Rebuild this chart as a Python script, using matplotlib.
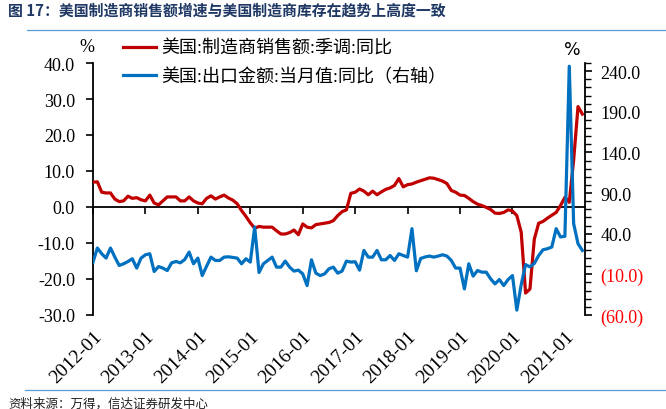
import matplotlib
matplotlib.use('Agg')
import matplotlib.pyplot as plt
from matplotlib.ticker import MultipleLocator
from matplotlib.lines import Line2D
import numpy as np

plt.rcParams['font.family'] = ['Liberation Serif', 'Noto Sans CJK SC', 'DejaVu Sans']

# ---------------- data ----------------
months = [f"{y}-{m:02d}" for y in range(2012, 2022) for m in range(1, 13)][:113]

sales_yoy = [6.9, 7.0, 4.1, 3.9, 3.9, 2.2, 1.5, 1.7, 3.0, 2.4, 2.6, 2.0,
             1.7, 3.3, 1.1, 0.6, 1.7, 2.8, 2.8, 2.8, 1.7, 1.7, 2.8, 1.7,
             1.1, 0.9, 2.4, 3.1, 2.2, 2.8, 3.3, 2.5, 1.9, 0.9, -1.0, -2.6,
             -4.4, -5.9, -5.4, -5.6, -5.6, -5.6, -6.6, -7.5, -7.5, -7.1, -6.4, -7.7,
             -4.7, -5.6, -5.8, -4.9, -4.7, -4.5, -4.3, -3.8, -2.4, -1.3, -0.8, 3.8,
             4.1, 5.0, 4.4, 3.4, 4.4, 3.4, 4.2, 4.9, 5.3, 6.0, 7.9, 5.6,
             6.2, 6.4, 6.9, 7.3, 7.7, 8.1, 8.0, 7.6, 7.2, 6.5, 4.6, 4.1,
             3.3, 3.2, 2.4, 1.5, 0.8, 0.4, -0.1, -0.7, -1.7, -1.8, -1.5, -0.8,
             -1.1, -2.4, -7.0, -23.9, -22.8, -8.9, -4.5, -4.0, -3.1, -2.3, -1.5, 0.4,
             2.7, 1.3, 13.0, 27.9, 25.8]

exports_yoy = [5.1, 22.4, 15.3, 10.0, 22.4, 11.2, 0.9, 3.0, 5.8, 9.2, -2.3, 10.0,
               14.1, 15.3, -6.5, -0.4, -2.3, -5.3, 4.2, 5.8, 4.2, 8.3, 17.4, 3.0,
               10.0, -11.5, 0.1, 11.2, 7.1, 7.1, 11.2, 11.6, 10.8, 10.0, 3.0, 9.2,
               5.1, 48.3, -7.7, 3.0, 7.1, 11.2, -1.1, -1.1, 6.3, -1.1, -6.0, -4.8,
               -9.4, -23.8, 7.9, -8.5, -11.5, -9.4, -3.2, -1.1, -8.5, -6.0, 6.3, 5.1,
               5.5, -4.8, 19.4, 11.2, 11.2, 19.4, 7.9, 7.9, 13.2, 7.1, 15.3, 13.2,
               11.2, 46.2, -5.6, 9.6, 11.4, 12.5, 11.2, 12.5, 14.1, 12.5, 7.1, -2.3,
               -2.3, -27.9, 3.0, -12.2, -5.3, -7.3, -7.3, -15.5, -21.7, -16.4, -23.8, -16.4,
               -11.5, -54.0, -22.7, 2.0, -0.8, 3.4, 13.2, 20.3, 21.5, 23.6, 46.2, 36.0,
               36.8, 246.0, 52.4, 27.7, 19.4]

year_labels = ["2012-01", "2013-01", "2014-01", "2015-01", "2016-01",
               "2017-01", "2018-01", "2019-01", "2020-01", "2021-01"]

left_ticks = [-30, -20, -10, 0, 10, 20, 30, 40]
right_ticks = [-60, -10, 40, 90, 140, 190, 240]

title = "图 17：美国制造商销售额增速与美国制造商库存在趋势上高度一致"
legend_labels = ["美国:制造商销售额:季调:同比", "美国:出口金额:当月值:同比（右轴）"]
source = "资料来源：万得，信达证券研发中心"

RED = '#C00000'
BLUE = '#0070C0'

# ---------------- figure ----------------
W, H = 666, 410
fig = plt.figure(figsize=(W / 100, H / 100), dpi=100)
L, R, T, B = 93, 585, 64, 316
ax = fig.add_axes([L / W, 1 - B / H, (R - L) / W, (B - T) / H])

x = np.arange(len(months))
ax.plot(x, sales_yoy, color=RED, lw=2.3, solid_joinstyle='round', zorder=3)
ax.set_xlim(0, 112.6)
ax.set_ylim(-30, 40)
ax.set_yticks(left_ticks, labels=[f"{v:.1f}" for v in left_ticks])
ax.tick_params(axis='y', direction='out', length=5, width=1.2, labelsize=13, pad=8)

for s in ['top', 'right']:
    ax.spines[s].set_visible(False)
ax.spines['left'].set_linewidth(1.3)
ax.spines['bottom'].set_position(('data', 0))
ax.spines['bottom'].set_linewidth(1.3)
ax.spines['bottom'].set_zorder(2)

year_pos = [months.index(lbl) for lbl in year_labels]
ax.set_xticks(year_pos)
ax.tick_params(axis='x', direction='out', length=5, width=1.2, labelbottom=False)

sec = ax.secondary_xaxis('bottom')
sec.set_xticks(year_pos, labels=year_labels)
sec.tick_params(axis='x', length=0, pad=9, labelsize=14)
sec.spines['bottom'].set_visible(False)
for t in sec.get_xticklabels():
    t.set_rotation(45)
    t.set_ha('right')
    t.set_rotation_mode('anchor')

ax2 = ax.twinx()
ax2.plot(x, exports_yoy, color=BLUE, lw=2.3, solid_joinstyle='round', zorder=3)
ax2.set_ylim(-60, 250)
ax2.set_yticks(right_ticks,
               labels=[f"({abs(v):.1f})" if v < 0 else f"{v:.1f}" for v in right_ticks])
ax2.yaxis.set_minor_locator(MultipleLocator(10))
ax2.tick_params(axis='y', which='major', direction='out', length=5, width=1.2,
                labelsize=13, pad=6)
ax2.tick_params(axis='y', which='minor', direction='out', length=4, width=1.0)
for t, v in zip(ax2.get_yticklabels(), right_ticks):
    t.set_color('#FF0000' if v < 0 else 'black')
for s in ['top', 'left', 'bottom']:
    ax2.spines[s].set_visible(False)
ax2.spines['right'].set_linewidth(1.3)

# axis unit labels
fig.text(87 / W, 1 - 47 / H, "%", ha='center', va='center', fontsize=13)
fig.text(572 / W, 1 - 50 / H, "%", ha='center', va='center', fontsize=12.5,
         family=['DejaVu Sans'])

# legend
handles = [Line2D([], [], color=RED, lw=2.3), Line2D([], [], color=BLUE, lw=2.3)]
fig.legend(handles, legend_labels, loc='upper left',
           bbox_to_anchor=(123 / W, 1 - 41 / H), frameon=False,
           prop={'family': ['Liberation Serif', 'Noto Sans CJK SC'], 'size': 13},
           handlelength=1.85, handletextpad=0.25, labelspacing=0.6,
           borderpad=0, borderaxespad=0)

# title and rules
fig.text(8 / W, 1 - 11 / H, title, ha='left', va='center', fontsize=10.75,
         fontweight='bold', color='#1F3864', family=['Noto Sans CJK SC'])
fig.add_artist(Line2D([27 / W, 1.0], [1 - 31 / H, 1 - 31 / H], color='#5B9BD5', lw=0.9))
fig.add_artist(Line2D([25 / W, 1.0], [1 - 391 / H, 1 - 391 / H], color='#5B9BD5', lw=0.9))
fig.text(8 / W, 1 - 404 / H, source, ha='left', va='center', fontsize=9,
         color='#222222', family=['Noto Sans CJK SC'])

fig.savefig('out.png', dpi=100)
